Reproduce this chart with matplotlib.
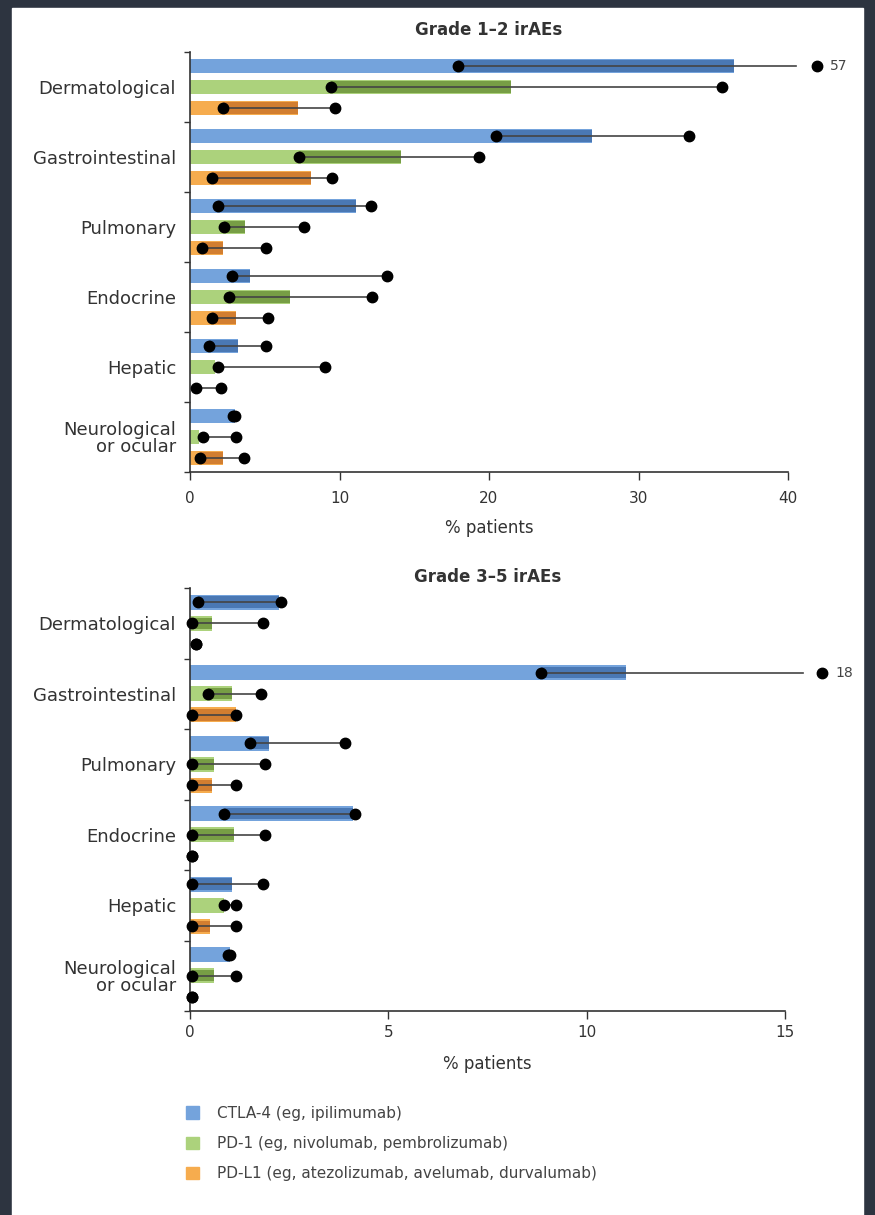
import matplotlib
matplotlib.use("Agg")
import matplotlib.pyplot as plt
from matplotlib.patches import Patch, Rectangle
import numpy as np

categories = ['Dermatological', 'Gastrointestinal', 'Pulmonary', 'Endocrine',
              'Hepatic', 'Neurological\nor ocular']
drugs = ['CTLA-4 (eg, ipilimumab)',
         'PD-1 (eg, nivolumab, pembrolizumab)',
         'PD-L1 (eg, atezolizumab, avelumab, durvalumab)']

# Grade 1-2: median (bar), low and high of the range (% patients)
ctla4_g12_med = [36.4, 26.9, 11.1, 4.0, 3.2, 3.0]
ctla4_g12_low = [17.9, 20.5, 1.9, 2.8, 1.3, 2.9]
ctla4_g12_high = [57, 33.4, 12.1, 13.2, 5.1, 3.0]
pd1_g12_med = [21.5, 14.1, 3.7, 6.7, 1.7, 0.6]
pd1_g12_low = [9.4, 7.3, 2.3, 2.6, 1.9, 0.9]
pd1_g12_high = [35.6, 19.3, 7.6, 12.2, 9.0, 3.1]
pdl1_g12_med = [7.2, 8.1, 2.2, 3.1, 0.0, 2.2]
pdl1_g12_low = [2.2, 1.5, 0.8, 1.5, 0.4, 0.7]
pdl1_g12_high = [9.7, 9.5, 5.1, 5.2, 2.1, 3.6]

# Grade 3-5
ctla4_g35_med = [2.25, 11.0, 2.0, 4.1, 1.05, 1.0]
ctla4_g35_low = [0.2, 8.85, 1.5, 0.85, 0.05, 0.95]
ctla4_g35_high = [2.3, 18, 3.9, 4.15, 1.85, 1.0]
pd1_g35_med = [0.55, 1.05, 0.6, 1.1, 0.85, 0.6]
pd1_g35_low = [0.05, 0.45, 0.05, 0.05, 0.85, 0.05]
pd1_g35_high = [1.85, 1.8, 1.9, 1.9, 1.15, 1.15]
pdl1_g35_med = [0.0, 1.15, 0.55, 0.0, 0.5, 0.0]
pdl1_g35_low = [0.15, 0.05, 0.05, 0.05, 0.05, 0.05]
pdl1_g35_high = [0.15, 1.15, 1.15, 0.05, 1.15, 0.05]

light = ['#74a3dc', '#acd27c', '#f6ac4e']
dark = ['#4a78b4', '#779e45', '#d27e30']
txt = '#333333'

plt.rcParams['font.family'] = 'DejaVu Sans'

fig = plt.figure(figsize=(8.75, 12.15), dpi=100, facecolor='#2d3440')
fig.add_artist(Rectangle((12 / 875, 0), 851 / 875, 1207 / 1215,
                         transform=fig.transFigure, color='white', zorder=-5))


def panel(ax, title, xmax, xticks, meds, lows, highs, brk, tickpad, labpad, titlepad):
    # brk: pixels beyond the axis end for (line end, dot, label) of off-scale values
    ax.set_facecolor('none')
    width_px = ax.get_position().width * fig.get_figwidth() * fig.dpi
    px = xmax / width_px
    offs = [0.2, 0.5, 0.8]
    y0 = np.arange(len(categories))
    for k in range(3):
        med = np.array(meds[k], dtype=float)
        low = np.array(lows[k], dtype=float)
        high = np.array(highs[k], dtype=float)
        y = y0 + offs[k]
        ax.barh(y, med, height=0.21, color=light[k], zorder=1)
        dark_end = np.minimum(med, high)
        ax.barh(y, np.clip(dark_end - low, 0, None), left=low, height=0.16,
                color=dark[k], zorder=2)
        for yi, lo, hi in zip(y, low, high):
            if hi > xmax:
                x_line = xmax + brk[0] * px
                x_dot = xmax + brk[1] * px
                ax.plot([lo, x_line], [yi, yi], color='#444444', lw=1.2, zorder=3, clip_on=False)
                ax.plot([lo, x_dot], [yi, yi], 'o', color='black', ms=7.5, zorder=4, clip_on=False)
                ax.text(xmax + brk[2] * px, yi, f'{hi:g}', va='center', ha='left',
                        fontsize=10, color='#444444')
            else:
                ax.plot([lo, hi], [yi, yi], color='#444444', lw=1.2, zorder=3, clip_on=False)
                ax.plot([lo, hi], [yi, yi], 'o', color='black', ms=7.5, zorder=4, clip_on=False)
    ax.set_xlim(0, xmax)
    ax.set_ylim(len(categories), 0)
    ax.set_xticks(xticks)
    ax.set_yticks(y0 + 0.5)
    ax.set_yticklabels(categories, fontsize=13, color=txt, linespacing=0.95)
    ax.set_yticks(np.arange(len(categories) + 1), minor=True)
    ax.tick_params(axis='y', which='major', length=0, pad=10)
    ax.tick_params(axis='y', which='minor', length=4, width=1, color=txt)
    ax.tick_params(axis='x', length=6, width=1, color=txt, labelsize=11,
                   labelcolor=txt, pad=tickpad)
    for s in ['top', 'right']:
        ax.spines[s].set_visible(False)
    for s in ['left', 'bottom']:
        ax.spines[s].set_color(txt)
        ax.spines[s].set_linewidth(1.2)
    ax.set_xlabel('% patients', fontsize=12, color=txt, labelpad=labpad)
    ax.set_title(title, fontsize=12, fontweight='bold', color=txt, pad=titlepad)


ax1 = fig.add_axes([190 / 875, 1 - 472 / 1215, 598 / 875, 420 / 1215])
panel(ax1, 'Grade 1–2 irAEs', 40, [0, 10, 20, 30, 40],
      [ctla4_g12_med, pd1_g12_med, pdl1_g12_med],
      [ctla4_g12_low, pd1_g12_low, pdl1_g12_low],
      [ctla4_g12_high, pd1_g12_high, pdl1_g12_high],
      brk=(8, 29, 42), tickpad=8, labpad=9, titlepad=12)

ax2 = fig.add_axes([190 / 875, 1 - 1011 / 1215, 595 / 875, 423 / 1215])
panel(ax2, 'Grade 3–5 irAEs', 15, [0, 5, 10, 15],
      [ctla4_g35_med, pd1_g35_med, pdl1_g35_med],
      [ctla4_g35_low, pd1_g35_low, pdl1_g35_low],
      [ctla4_g35_high, pd1_g35_high, pdl1_g35_high],
      brk=(18, 37, 50), tickpad=4, labpad=11, titlepad=4)

handles = [Patch(color=c) for c in light]
fig.legend(handles, drugs, loc='upper left', bbox_to_anchor=(172 / 875, 1 - 1092 / 1215),
           frameon=False, fontsize=11, handlelength=0.85, handleheight=0.85,
           handletextpad=1.2, labelspacing=1.0, labelcolor='#444444')

fig.savefig('out.png', dpi=100, facecolor=fig.get_facecolor())
